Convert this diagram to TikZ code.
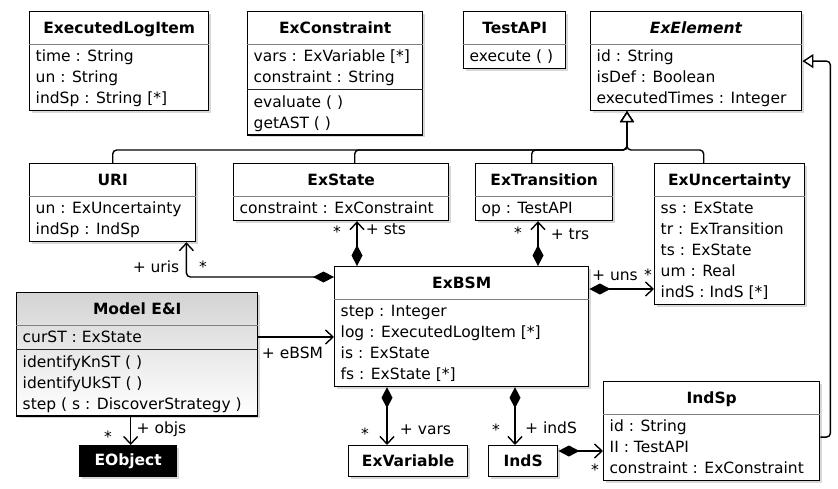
\documentclass[tikz,border=0pt]{standalone}
\usepackage{amsmath}
\usepackage{fontspec}
\setmainfont{DejaVu Sans}[BoldFont=DejaVu Sans Bold, ItalicFont=DejaVu Sans Oblique, BoldItalicFont=DejaVu Sans Bold Oblique]
\usepackage{tikz}
\usepackage{xcolor}
\usetikzlibrary{arrows}
\usetikzlibrary{arrows.meta, shapes.multipart, shadows}

\newcommand{\rw}{\rule[-5pt]{0pt}{21pt}}
\newcommand{\hd}{\rule[-9pt]{0pt}{29pt}}

\begin{document}
\begin{tikzpicture}[x=1pt, y=-1pt, line width=1.4pt,
    cls/.style={draw, fill=white, rectangle split, rectangle split parts=2,
      rectangle split draw splits=false,
      rectangle split part align={center,left,left}, align=left,
      inner xsep=6pt, inner ysep=1pt, anchor=north west,
      font=\fontsize{15.5}{21}\selectfont,
      drop shadow={shadow xshift=2.5pt, shadow yshift=-2.5pt, opacity=0.22, fill=black!70}},
    box/.style={draw, fill=white, minimum height=31pt, inner sep=0pt, anchor=north west,
      font=\fontsize{15.5}{21}\selectfont\bfseries,
      drop shadow={shadow xshift=2.5pt, shadow yshift=-2.5pt, opacity=0.22, fill=black!70}},
    lbl/.style={inner sep=0pt, font=\fontsize{15.5}{18}\selectfont},
    hsplit/.style={draw=black!50, line width=0.9pt},
    msplit/.style={draw=black!85, line width=1.2pt},
    comp/.style={{Diamond[length=21pt,width=11pt]}-{Straight Barb[length=7.5pt,width=14pt]}, rounded corners=4pt},
    assoc/.style={-{Straight Barb[length=7.5pt,width=14pt]}},
    gen/.style={-{Triangle[open,length=11pt,width=14pt,fill=white]}, rounded corners=4pt}]
    \useasboundingbox (0,0) rectangle (838,489);

    % classes, top row
    \node[cls, minimum width=179pt] (eli) at (29,11)
      {\hd\textbf{ExecutedLogItem}\nodepart{two}\rw time : String\\\rw un : String\\\rw indSp : String [*]};
    \node[cls, rectangle split parts=3, minimum width=175pt] (exc) at (247,11)
      {\hd\textbf{ExConstraint}\nodepart{two}\rw vars : ExVariable [*]\\\rw constraint : String
       \nodepart{three}\rw evaluate ( )\\\rw getAST ( )};
    \node[cls, minimum width=102pt] (api) at (463,11)
      {\hd\textbf{TestAPI}\nodepart{two}\rw execute ( )};
    \node[cls, minimum width=211pt] (el) at (590,11)
      {\hd\textbf{\textit{ExElement}}\nodepart{two}\rw id : String\\\rw isDef : Boolean\\\rw executedTimes : Integer};

    % classes, middle row
    \node[cls, minimum width=166pt] (uri) at (29,163)
      {\hd\textbf{URI}\nodepart{two}\rw un : ExUncertainty\\\rw indSp : IndSp};
    \node[cls, minimum width=215pt] (st) at (233,163)
      {\hd\textbf{ExState}\nodepart{two}\rw constraint : ExConstraint};
    \node[cls, minimum width=137pt] (tr) at (475,163)
      {\hd\textbf{ExTransition}\nodepart{two}\rw op : TestAPI};
    \node[cls, minimum width=150pt] (unc) at (654,163)
      {\hd\textbf{ExUncertainty}\nodepart{two}\rw ss : ExState\\\rw tr : ExTransition\\\rw ts : ExState\\\rw um : Real\\\rw indS : IndS [*]};
    \node[cls, minimum width=254pt] (bsm) at (334,266)
      {\hd\textbf{ExBSM}\nodepart{two}\rw step : Integer\\\rw log : ExecutedLogItem [*]\\\rw is : ExState\\\rw fs : ExState [*]};
    \node[cls, rectangle split parts=3, minimum width=241pt, top color=black!17, bottom color=white] (mei) at (16,292)
      {\hd\textbf{Model E\&I}\nodepart{two}\rw curST : ExState
       \nodepart{three}\rw identifyKnST ( )\\\rw identifyUkST ( )\\\rw step ( s : DiscoverStrategy )};
    \node[cls, minimum width=216pt] (isp) at (603,381)
      {\hd\textbf{IndSp}\nodepart{two}\rw id : String\\\rw II : TestAPI\\\rw constraint : ExConstraint};

    % classes, bottom row
    \node[box, minimum width=97pt, fill=black, text=white] (eo) at (79,445) {EObject};
    \node[box, minimum width=119pt] (var) at (348,445) {ExVariable};
    \node[box, minimum width=69pt] (ids) at (488,445) {IndS};

    % compartment lines
    \foreach \n in {eli,exc,api,el,uri,st,tr,unc,bsm,mei,isp}
      \draw[hsplit] (\n.one split west) -- (\n.one split east);
    \foreach \n in {exc,mei}
      \draw[msplit] (\n.two split west) -- (\n.two split east);

    % generalizations
    \coordinate (bus) at (627,150);
    \draw[gen] (uri.north) |- (bus) -- (bus |- el.south);
    \draw[gen] ([xshift=13.5pt]st.north) |- (bus) -- (bus |- el.south);
    \draw[gen] ([xshift=-12.5pt]tr.north) |- (bus) -- (bus |- el.south);
    \draw[gen] ([xshift=-26pt]unc.north) |- (bus) -- (bus |- el.south);
    \draw[gen] ([yshift=-6pt]isp.east) -- ++(10,0) |- (el.east);

    % compositions
    \draw[comp] ([yshift=-11pt]bsm.north west) -| ([xshift=-10pt]uri.south east);
    \draw[comp] ([xshift=23pt]bsm.north west) -- ([xshift=23pt]bsm.north west |- st.south);
    \draw[comp] ([xshift=204pt]bsm.north west) -- ([xshift=204pt]bsm.north west |- tr.south);
    \draw[comp] ([yshift=-23pt]bsm.north east) -- ([yshift=-23pt]bsm.north east -| unc.west);
    \draw[comp] ([xshift=53pt]bsm.south west) -- ([xshift=53pt]bsm.south west |- var.north);
    \draw[comp] ([xshift=181pt]bsm.south west) -- ([xshift=181pt]bsm.south west |- ids.north);
    \draw[comp] ([yshift=-6pt]ids.north east) -- ([yshift=-6pt]ids.north east -| isp.west);

    % associations
    \draw[assoc] ([yshift=-45pt]mei.north east) -- ([yshift=-45pt]mei.north east -| bsm.west);
    \draw[assoc] ([xshift=-6.5pt]mei.south) -- ([xshift=-6.5pt]mei.south |- eo.north);

    % roles and multiplicities
    \node[lbl] (r-uris) at (156,267) {+ uris};
    \node[lbl] (m-uris) at (203,267) {*};
    \node[lbl] (r-sts) at (386,229) {+ sts};
    \node[lbl] (m-sts) at (337,232) {*};
    \node[lbl] (r-trs) at (570,234) {+ trs};
    \node[lbl] (m-trs) at (518,233) {*};
    \node[lbl] (r-uns) at (615,276) {+ uns};
    \node[lbl] (m-uns) at (648,275) {*};
    \node[lbl] (r-ebsm) at (292.5,353) {+ eBSM};
    \node[lbl] (r-objs) at (161.5,429) {+ objs};
    \node[lbl] (m-objs) at (108,437) {*};
    \node[lbl] (r-vars) at (425.5,430) {+ vars};
    \node[lbl] (m-vars) at (365,434) {*};
    \node[lbl] (r-inds) at (551,428) {+ indS};
    \node[lbl] (m-inds) at (496,430) {*};
    \node[lbl] (m-isp) at (595,470) {*};
\end{tikzpicture}
\end{document}
